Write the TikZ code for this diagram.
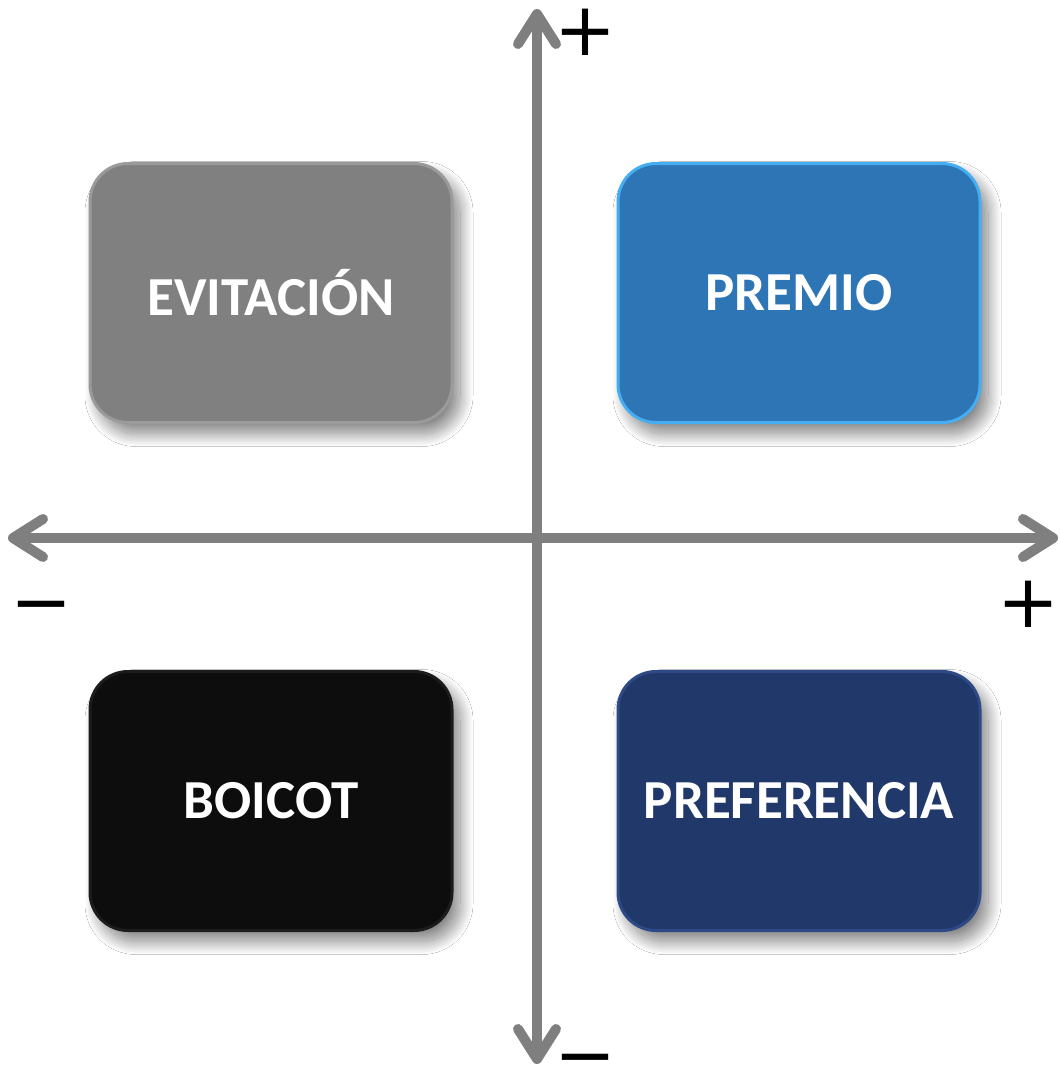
\documentclass[tikz,border=0pt]{standalone}
\usepackage{fontspec}
\setmainfont{Carlito}
\newfontfamily\signfont{DejaVu Sans}
\usetikzlibrary{arrows.meta,shadows.blur}
\definecolor{axisgray}{HTML}{7F7F7F}
\definecolor{boxgray}{HTML}{808080}
\definecolor{boxgrayedge}{HTML}{9A9A9A}
\definecolor{boxblue}{HTML}{2E75B6}
\definecolor{boxblueedge}{HTML}{45AEF2}
\definecolor{boxblack}{HTML}{0D0D0D}
\definecolor{boxblackedge}{HTML}{1C1C1C}
\definecolor{boxnavy}{HTML}{21386A}
\definecolor{boxnavyedge}{HTML}{2E4A86}
\tikzset{
  quad/.style={rounded corners=38pt, minimum width=362pt, minimum height=259pt,
    inner sep=0pt, line width=3pt, text=white,
    font=\fontsize{55}{60}\selectfont\bfseries,
    blur shadow={shadow xshift=8pt, shadow yshift=-11pt, shadow blur radius=13pt,
      shadow blur steps=30, shadow opacity=50}},
  axis/.style={draw=axisgray, line width=10pt,
    {Straight Barb[length=30pt, width=38pt, round]}-{Straight Barb[length=30pt, width=38pt, round]}},
  sign/.style={inner sep=0pt, text=black, anchor=base, font=\signfont\fontsize{74}{80}\selectfont},
}
\begin{document}
\begin{tikzpicture}[x=1pt, y=-1pt]
\useasboundingbox[fill=white] (0,0) rectangle (1060,1066);
% boxes
\node[quad, fill=boxgray, draw=boxgrayedge] (evit) at (271,293) {EVITACIÓN};
\node[quad, fill=boxblue, draw=boxblueedge] (prem) at (799,293) {PREMIO};
\node[quad, fill=boxblack, draw=boxblackedge] (boic) at (271,801) {BOICOT};
\node[quad, fill=boxnavy, draw=boxnavyedge] (pref) at (799,801) {PREFERENCIA};
% axes
\coordinate (L) at (8,538);
\coordinate (R) at (1058,538);
\coordinate (T) at (537,9);
\coordinate (B) at (537,1064);
\draw[axis] (L) -- (R);
\draw[axis] (B) -- (T);
% signs (baseline = ink centre + about 23)
\node[sign] (tplus) at (585,55) {+};
\node[sign] (rplus) at (1028,627) {+};
\node[sign] (lminus) at (42,627) {−};
\node[sign] (bminus) at (585,1080) {−};
\end{tikzpicture}
\end{document}
